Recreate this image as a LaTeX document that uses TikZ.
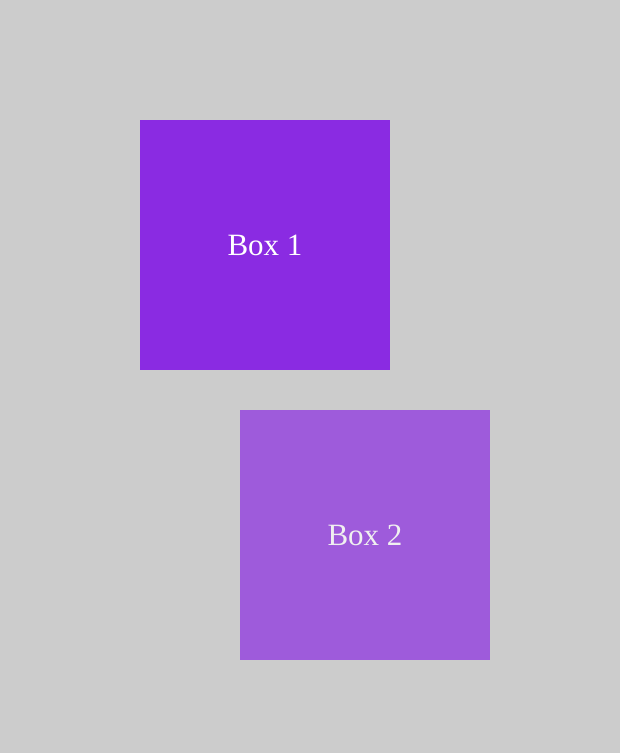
\documentclass[tikz,border=0pt]{standalone}
\usepackage{fontspec}
\setmainfont{Liberation Serif}
\usepackage{tikz}
\definecolor{pagegray}{HTML}{CCCCCC}
\definecolor{boxviolet}{HTML}{8A2BE2}
\definecolor{boxfaded}{HTML}{9E5BDB}
\definecolor{textfaded}{HTML}{F0F0F0}

\begin{document}
\begin{tikzpicture}[x=1pt, y=-1pt,
  every node/.style={draw=none, inner sep=0pt, minimum size=250pt, text=white, font=\fontsize{31}{36}\selectfont}]
% Background
\fill[pagegray] (0,0) rectangle (620,753);
\useasboundingbox (0,0) rectangle (620,753);
% Boxes
\node[fill=boxviolet] (box1) at (265,245) {Box 1};
\node[fill=boxfaded, text=textfaded] (box2) at (365,535) {Box 2};
\end{tikzpicture}
\end{document}
